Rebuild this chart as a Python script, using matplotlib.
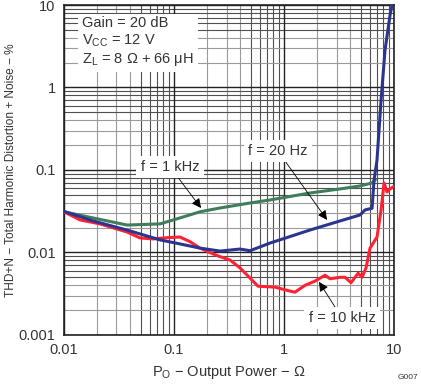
import numpy as np
import matplotlib
matplotlib.use("Agg")
import matplotlib.pyplot as plt
from matplotlib import font_manager

plt.rcParams["font.family"] = ["Liberation Sans", "DejaVu Sans"]
plt.rcParams["mathtext.default"] = "regular"

# f = 1 kHz (green)
p_1k = [0.01, 0.0184, 0.0374, 0.0747, 0.113, 0.172, 0.262, 0.491, 0.746, 1.72, 3.23, 4.91, 6.31, 6.72]
thd_1k = [0.0311, 0.0262, 0.0215, 0.0222, 0.0262, 0.0311, 0.0346, 0.0398, 0.0433, 0.0526, 0.0589, 0.064, 0.0696, 0.0757]

# f = 20 Hz (blue)
p_20 = [0.01, 0.0184, 0.0374, 0.0747, 0.113, 0.172, 0.262, 0.398, 0.491, 0.746, 1.72, 3.23,
        4.91, 5.45, 6.31, 6.58, 7.0, 7.62, 8.28, 9.2, 9.59]
thd_20 = [0.0315, 0.0241, 0.0187, 0.0142, 0.0127, 0.0113, 0.0104, 0.0110, 0.0105, 0.0130, 0.0187, 0.0241,
          0.0285, 0.0328, 0.0343, 0.0757, 0.132, 0.706, 2.85, 7.56, 10.0]

# f = 10 kHz (red)
p_10k = [0.01, 0.014, 0.0212, 0.0374, 0.0491, 0.0644, 0.0863, 0.113, 0.14, 0.172, 0.226, 0.262,
         0.323, 0.398, 0.58, 0.828, 1.134, 1.259, 1.552, 1.913, 2.36, 2.62, 3.23, 3.585,
         4.06, 4.71, 5.12, 5.56, 6.05, 7.0, 7.62, 8.11, 8.63, 9.2, 9.79]
thd_10k = [0.0311, 0.0248, 0.0222, 0.0177, 0.015, 0.0146, 0.0151, 0.0154, 0.0135, 0.0113, 0.0096, 0.0089,
           0.0081, 0.0065, 0.0039, 0.0038, 0.0034, 0.0033, 0.0040, 0.0045, 0.0053, 0.0048, 0.0050, 0.0050,
           0.0043, 0.0056, 0.0050, 0.0065, 0.0113, 0.0154, 0.0328, 0.0696, 0.0541, 0.0589, 0.0622]

x_ticks = [0.01, 0.1, 1, 10]
x_tick_labels = ["0.01", "0.1", "1", "10"]
y_ticks = [0.001, 0.01, 0.1, 1, 10]
y_tick_labels = ["0.001", "0.01", "0.1", "1", "10"]

# y label in the reference is set in a narrow face
names = {f.name for f in font_manager.fontManager.ttflist}
if "Liberation Sans Narrow" in names:
    ylab_font, ylab_size = "Liberation Sans Narrow", 9.8
else:
    ylab_font, ylab_size = "Liberation Sans", 8.6

fig = plt.figure(figsize=(4.21, 3.85), dpi=100)
ax = fig.add_axes([0.152, 0.130, 0.784, 0.857])
ax.set_xscale("log")
ax.set_yscale("log")
ax.set_xlim(0.01, 10)
ax.set_ylim(0.001, 10)

# grid: light for 2-4, dark for 5-9, black for decades
for v in np.concatenate([m * 10.0 ** np.arange(-2, 1) for m in range(2, 10)]):
    m = round(v / 10 ** np.floor(np.log10(v) + 1e-9))
    ax.axvline(v, color="#9a9a9a" if m < 5 else "#505050", lw=0.8, zorder=1)
for v in np.concatenate([m * 10.0 ** np.arange(-3, 1) for m in range(2, 10)]):
    m = round(v / 10 ** np.floor(np.log10(v) + 1e-9))
    ax.axhline(v, color="#9a9a9a" if m < 5 else "#505050", lw=0.8, zorder=1)
for v in x_ticks:
    ax.axvline(v, color="#222222", lw=1.0, zorder=1)
for v in y_ticks:
    ax.axhline(v, color="#222222", lw=1.0, zorder=1)

ax.plot(p_1k, thd_1k, color="#3f7d5b", lw=2.2, zorder=3)
ax.plot(p_20, thd_20, color="#2b3590", lw=2.2, zorder=4)
ax.plot(p_10k, thd_10k, color="#ff2233", lw=2.2, zorder=3)

ax.set_xticks(x_ticks)
ax.set_xticklabels(x_tick_labels)
ax.set_yticks(y_ticks)
ax.set_yticklabels(y_tick_labels)
ax.minorticks_off()
ax.tick_params(length=0, labelsize=10.5, pad=6, colors="#333333")
for s in ax.spines.values():
    s.set_linewidth(1.2)
    s.set_color("#222222")

ax.set_xlabel("P$_O$ − Output Power − Ω", fontsize=10.5, color="#333333", labelpad=5)
ax.set_ylabel("THD+N − Total Harmonic Distortion + Noise − %", fontsize=ylab_size,
              family=[ylab_font, "DejaVu Sans"], color="#333333", labelpad=1)

ax.text(0.0146, 7.4, "Gain = 20 dB\nV$_{CC}$ = 12 V\nZ$_L$ = 8 Ω + 66 μH", fontsize=10.5,
        color="#333333", va="top", ha="left", linespacing=1.2, zorder=6,
        bbox=dict(facecolor="white", edgecolor="none", pad=3))

box = dict(facecolor="white", edgecolor="none", pad=3)
arrow = dict(arrowstyle="-|>", color="black", lw=0.6, mutation_scale=14, shrinkA=0, shrinkB=0)
ax.annotate("f = 1 kHz", xy=(0.176, 0.0346), xytext=(0.092, 0.109), fontsize=10.5, color="#333333",
            ha="center", va="center", bbox=box, arrowprops=arrow, zorder=6)
ax.annotate("f = 20 Hz", xy=(2.46, 0.0248), xytext=(0.88, 0.17), fontsize=10.5, color="#333333",
            ha="center", va="center", bbox=box, arrowprops=arrow, zorder=6)
ax.annotate("f = 10 kHz", xy=(2.08, 0.0044), xytext=(3.37, 0.0016), fontsize=10.5, color="#333333",
            ha="center", va="center", bbox=box, arrowprops=arrow, zorder=6)

fig.text(0.993, 0.01, "G007", fontsize=6, ha="right", va="bottom", color="#333333")

fig.savefig("out.png", dpi=100)
